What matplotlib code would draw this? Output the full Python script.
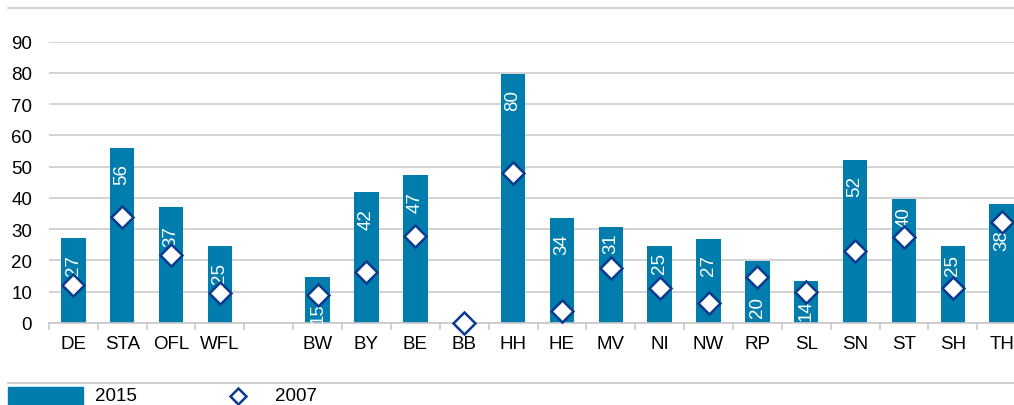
import numpy as np
import matplotlib
matplotlib.use('Agg')
import matplotlib.pyplot as plt
from matplotlib.lines import Line2D
from matplotlib.patches import Rectangle

plt.rcParams['font.family'] = ['Liberation Sans', 'DejaVu Sans']

# data (empty slot = gap between groups)
categories = ['DE', 'STA', 'OFL', 'WFL', '', 'BW', 'BY', 'BE', 'BB', 'HH',
              'HE', 'MV', 'NI', 'NW', 'RP', 'SL', 'SN', 'ST', 'SH', 'TH']
v2015 = [27.1, 56.1, 37.0, 24.6, np.nan, 14.6, 41.8, 47.3, np.nan, 79.7,
         33.6, 30.6, 24.7, 26.9, 19.8, 13.5, 52.2, 39.7, 24.6, 38.1]
v2007 = [12.2, 34.0, 21.8, 9.6, np.nan, 9.0, 16.2, 27.9, 0.0, 48.0,
         3.9, 17.5, 11.3, 6.4, 14.6, 9.8, 23.1, 27.6, 11.3, 32.4]
yticks = [0, 10, 20, 30, 40, 50, 60, 70, 80, 90]

# label offsets below bar top (px), Excel moved a few by hand
lab_off = {'MV': 15, 'NI': 17, 'ST': 18, 'SH': 18, 'TH': 36, 'RP': 45,
           'BW': 35, 'SL': 29, 'OFL': 28}

W, H = 1014, 406
fig = plt.figure(figsize=(W/100, H/100), dpi=100)
x0, x1 = 48.9, 48.9 + 20*48.86
y0, y1 = 324, 42.7
ax = fig.add_axes([x0/W, (H-y0)/H, (x1-x0)/W, (y0-y1)/H])

bar_col = '#007DAD'
dia_col = '#0B3A8E'
x = np.arange(len(categories))

ax.bar(x, v2015, width=0.5, color=bar_col, zorder=2)
ax.plot(x, v2007, ls='none', marker='D', ms=11, mfc='white', mec=dia_col,
        mew=1.8, zorder=4, clip_on=False)

for i, v in enumerate(v2015):
    if np.isnan(v):
        continue
    off = lab_off.get(categories[i], 26)
    ax.annotate(f'{v:.0f}', (x[i], v), xytext=(0, -off*0.72),
                textcoords='offset points', rotation=90, ha='center',
                va='center', color='white', fontsize=13.5, zorder=3)

ax.set_xlim(-0.5, len(categories) - 0.5)
ax.set_ylim(0, 90)
ax.set_yticks(yticks)
ax.set_xticks(x)
ax.set_xticklabels(categories, fontsize=13.5)
ax.tick_params(axis='y', length=0, pad=12, labelsize=13.5)
ax.tick_params(axis='x', length=0, pad=9)
for t in np.arange(-0.5, len(categories), 1):
    ax.plot([t, t], [0, -2], color='#c8c8c8', lw=1.2, clip_on=False, zorder=1)
ax.grid(axis='y', color='#cccccc', lw=1.2, zorder=0)
for s in ['top', 'right', 'left']:
    ax.spines[s].set_visible(False)
ax.spines['bottom'].set_color('#c8c8c8')
ax.spines['bottom'].set_linewidth(1.2)

# frame lines top and above legend
fig.add_artist(Line2D([8/W, 1], [1-9/H, 1-9/H], color='#c8c8c8', lw=1.2))
fig.add_artist(Line2D([8/W, 1], [(H-384)/H, (H-384)/H], color='#c8c8c8', lw=1.2))

# legend
fig.add_artist(Rectangle((8/W, 0), 75/W, (H-388)/H, color=bar_col,
                         transform=fig.transFigure))
fig.text(95/W, (H-397)/H, '2015', fontsize=13.5, va='center')
fig.add_artist(Line2D([238/W], [(H-397)/H], marker='D', ms=8.5, mfc='white',
                      mec=dia_col, mew=1.8, ls='none'))
fig.text(275/W, (H-397)/H, '2007', fontsize=13.5, va='center')

fig.savefig('out.png', dpi=100)
